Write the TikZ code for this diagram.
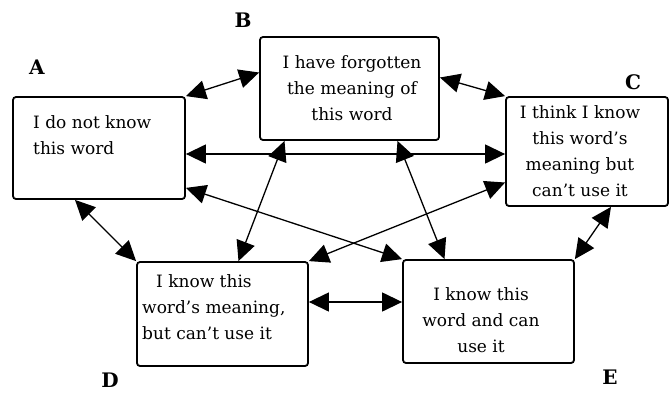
\documentclass[tikz,border=0pt]{standalone}
\usepackage{fontspec}
\setmainfont{DejaVu Serif}
\usepackage{tikz}
\usetikzlibrary{arrows.meta}

\begin{document}
\begin{tikzpicture}[x=1pt,y=-1pt,
  state/.style={draw,line width=1.8pt,rounded corners=3pt,inner sep=0pt},
  txt/.style={font=\fontsize{17}{26}\selectfont,inner sep=0pt},
  tag/.style={font=\fontsize{20}{20}\selectfont\bfseries,inner sep=0pt},
  link/.style={line width=1.3pt,{Triangle[length=20pt,width=19pt]}-{Triangle[length=20pt,width=19pt]}}]
\useasboundingbox (0,0) rectangle (672,394);
% the five boxes
\node[state,minimum width=172pt,minimum height=102pt] (a) at (99,148) {};
\node[state,minimum width=179pt,minimum height=103pt] (b) at (349.5,88.5) {};
\node[state,minimum width=162pt,minimum height=109pt] (c) at (587,151.5) {};
\node[state,minimum width=171pt,minimum height=104pt] (d) at (222.5,314) {};
\node[state,minimum width=171pt,minimum height=103pt] (e) at (488.5,311.5) {};
% what is written in them
\node[txt,anchor=west,align=left] (ta) at (33,135) {I do not know\\this word};
\node[txt,align=center] (tb) at (352,88) {I have forgotten\\the meaning of\\this word};
\node[txt,align=center] (tc) at (580,151) {I think I know\\this word's\\meaning but\\can't use it};
\node[txt,anchor=west,align=left] (td) at (142,307) {\hspace*{14pt}I know this\\word's meaning,\\but can't use it};
\node[txt,align=center] (te) at (481,320) {I know this\\word and can\\use it};
% letters
\node[tag] (la) at (37,67) {A};
\node[tag] (lb) at (243,20) {B};
\node[tag] (lc) at (633,82) {C};
\node[tag] (ld) at (110,380) {D};
\node[tag] (le) at (610,377) {E};
% arrows
\coordinate (ac) at ([shift={(0,6)}]a.east);
\coordinate (de) at ([shift={(0,-12)}]d.east);
\draw[link] (a.north east) -- ([shift={(0,-16)}]b.west);
\draw[link] ([shift={(0,-11)}]b.east) -- (c.north west);
\draw[link] (ac) -- (ac -| c.west);
\draw[link] ([shift={(0,-12)}]a.south east) -- (e.north west);
\draw[link] ([shift={(-65,0)}]b.south) -- ([shift={(16,0)}]d.north);
\draw[link] ([shift={(48,0)}]b.south) -- ([shift={(-44,0)}]e.north);
\draw[link] ([shift={(0,31)}]c.west) -- (d.north east);
\draw[link] ([shift={(-24,0)}]a.south) -- (d.north west);
\draw[link] (de) -- (de -| e.west);
\draw[link] ([shift={(24,0)}]c.south) -- (e.north east);
\end{tikzpicture}
\end{document}
